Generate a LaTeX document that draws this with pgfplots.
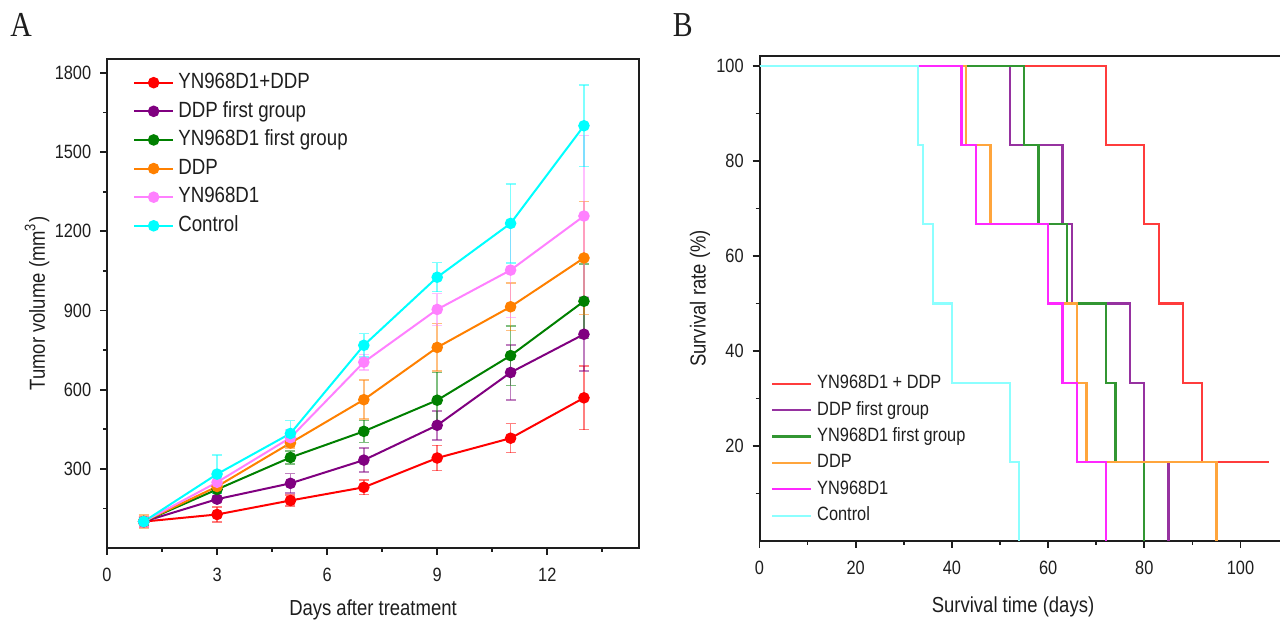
\documentclass[border=0pt]{standalone}
\usepackage{fontspec}
\setmainfont{Liberation Sans}[FakeStretch=0.85]
\newfontfamily\panelfont{Liberation Serif}[FakeStretch=0.85]
\usepackage{pgfplots}
\pgfplotsset{compat=1.18}

% panel A colours
\definecolor{aRed}{RGB}{255,0,0}
\definecolor{aPurple}{RGB}{128,0,128}
\definecolor{aGreen}{RGB}{0,128,0}
\definecolor{aOrange}{RGB}{255,128,0}
\definecolor{aPink}{RGB}{255,128,255}
\definecolor{aCyan}{RGB}{0,255,255}
% panel B colours
\definecolor{bRed}{RGB}{255,60,60}
\definecolor{bPurple}{RGB}{150,50,160}
\definecolor{bGreen}{RGB}{50,150,50}
\definecolor{bOrange}{RGB}{255,165,60}
\definecolor{bMagenta}{RGB}{255,40,255}
\definecolor{bCyan}{RGB}{140,255,255}
\definecolor{ink}{RGB}{30,30,30}

\pgfplotsset{
  panel/.style={
    scale only axis,
    axis line style={line width=0.8pt, ink},
    tick align=outside, tick pos=left,
    major tick length=2.8pt, minor tick length=1.6pt,
    every tick/.append style={line width=0.7pt, ink},
    tick label style={font=\fontsize{7.7}{9}\selectfont, text=ink},
    label style={font=\fontsize{8.7}{10}\selectfont, text=ink},
    /pgf/number format/assume math mode=true,
    /pgf/number format/1000 sep={},
    legend cell align=left,
  },
  errstyle/.style={
    line width=0.8pt, mark=*, mark size=1.9pt, mark options={solid},
    error bars/y dir=both, error bars/y explicit,
    error bars/error bar style={line width=0.6pt, opacity=0.5},
    error bars/error mark options={rotate=90, mark size=2pt, line width=0.6pt, opacity=0.5},
  },
}

\begin{document}
\begin{tikzpicture}
\path[use as bounding box] (0,0) rectangle (512pt,248pt);

\node[font=\panelfont\fontsize{14}{16}\selectfont, text=ink] at (8.4pt,238pt) {A};
\node[font=\panelfont\fontsize{14}{16}\selectfont, text=ink] at (273.1pt,238pt) {B};

% ---------- panel A: tumour volume ----------
\begin{axis}[panel,
  at={(42.8pt,28.8pt)}, anchor=south west,
  width=212.8pt, height=195.6pt,
  xmin=0, xmax=14.5, ymin=0, ymax=1853,
  xtick={0,3,6,9,12}, minor xtick={1.5,4.5,7.5,10.5,13.5},
  ytick={300,600,...,1800}, minor ytick={150,450,...,1650},
  xlabel={Days after treatment},
  ylabel={Tumor volume (mm\textsuperscript{3})},
  xlabel style={at={(axis description cs:0.5,-0.1268)}, anchor=center},
  ylabel style={at={(axis description cs:-0.1316,0.5)}, anchor=center},
  xticklabel style={yshift=-1.8pt},
  legend style={draw=none, fill=none, inner sep=0pt, outer sep=0pt,
    at={(axis description cs:0.0494,0.972)}, anchor=north west,
    row sep=3.45pt, column sep=1.7pt,
    nodes={inner sep=0pt, text height=6.3pt, text depth=1.7pt,
      font=\fontsize{8.8}{10}\selectfont, text=ink}},
  legend image code/.code={\draw[mark repeat=2,mark phase=2]
    plot coordinates {(0pt,0pt) (7.75pt,0pt) (15.5pt,0pt)};},
]
\addplot[errstyle, aRed] coordinates {
  (1,100) +- (0,20)  (3,127) +- (0,28)  (5,180) +- (0,20)  (7,230) +- (0,28)
  (9,341) +- (0,48)  (11,416) +- (0,55) (13,569) +- (0,120)
};
\addlegendentry{YN968D1+DDP}
\addplot[errstyle, aPurple] coordinates {
  (1,100) +- (0,15)  (3,185) +- (0,12)  (5,245) +- (0,37)  (7,333) +- (0,45)
  (9,465) +- (0,55)  (11,665) +- (0,105) (13,810) +- (0,140)
};
\addlegendentry{DDP first group}
\addplot[errstyle, aGreen] coordinates {
  (1,100) +- (0,15)  (3,222) +- (0,15)  (5,343) +- (0,25)  (7,442) +- (0,42)
  (9,560) +- (0,105) (11,729) +- (0,113) (13,935) +- (0,142)
};
\addlegendentry{YN968D1 first group}
\addplot[errstyle, aOrange] coordinates {
  (1,100) +- (0,25)  (3,233) +- (0,15)  (5,398) +- (0,20)  (7,562) +- (0,74)
  (9,760) +- (0,90)  (11,914) +- (0,90) (13,1099) +- (0,214)
};
\addlegendentry{DDP}
\addplot[errstyle, aPink] coordinates {
  (1,100) +- (0,20)  (3,249) +- (0,20)  (5,418) +- (0,30)  (7,704) +- (0,30)
  (9,904) +- (0,60)  (11,1053) +- (0,180) (13,1258) +- (0,305)
};
\addlegendentry{YN968D1}
\addplot[errstyle, aCyan] coordinates {
  (1,100) +- (0,15)  (3,280) +- (0,72)  (5,434) +- (0,49)  (7,768) +- (0,44)
  (9,1026) +- (0,55) (11,1230) +- (0,150) (13,1600) +- (0,155)
};
\addlegendentry{Control}
\end{axis}

% ---------- panel B: survival ----------
\begin{axis}[panel,
  at={(303.8pt,31.6pt)}, anchor=south west,
  width=215.5pt, height=194pt,
  xmin=0, xmax=112, ymin=0, ymax=102.1,
  xtick={0,20,...,100}, minor xtick={10,30,...,110},
  ytick={20,40,...,100}, minor ytick={10,30,...,90},
  xlabel={Survival time (days)},
  ylabel={Survival rate (\%)},
  xlabel style={at={(axis description cs:0.4706,-0.1356)}, anchor=center},
  ylabel style={at={(axis description cs:-0.1104,0.5)}, anchor=center},
  xticklabel style={yshift=-1.8pt},
  legend style={draw=none, fill=none, inner sep=0pt, outer sep=0pt,
    at={(axis description cs:0.0213,0.3423)}, anchor=north west,
    row sep=3.56pt, column sep=2pt,
    nodes={inner sep=0pt, text height=5.5pt, text depth=1.5pt,
      font=\fontsize{7.7}{9}\selectfont, text=ink}},
  legend image code/.code={\draw (0pt,0pt) -- (15.6pt,0pt);},
  every axis plot/.append style={line width=0.9pt, const plot},
]
\addplot[bRed] coordinates {
  (0,100) (72,83.33) (80,66.67) (83,50) (88,33.33) (92,16.67) (106,16.67)
};
\addlegendentry{YN968D1 + DDP}
\addplot[bPurple] coordinates {
  (0,100) (52,83.33) (63,66.67) (65,50) (77,33.33) (80,16.67) (85,0)
};
\addlegendentry{DDP first group}
\addplot[bGreen] coordinates {
  (0,100) (55,83.33) (58,66.67) (64,50) (72,33.33) (74,16.67) (80,0)
};
\addlegendentry{YN968D1 first group}
\addplot[bOrange] coordinates {
  (0,100) (43,83.33) (48,66.67) (60,50) (66,33.33) (68,16.67) (95,0)
};
\addlegendentry{DDP}
\addplot[bMagenta] coordinates {
  (0,100) (42,83.33) (45,66.67) (60,50) (63,33.33) (66,16.67) (72,0)
};
\addlegendentry{YN968D1}
\addplot[bCyan] coordinates {
  (0,100) (33,83.33) (34,66.67) (36,50) (40,33.33) (52,16.67) (54,0)
};
\addlegendentry{Control}
\end{axis}
\end{tikzpicture}
\end{document}
